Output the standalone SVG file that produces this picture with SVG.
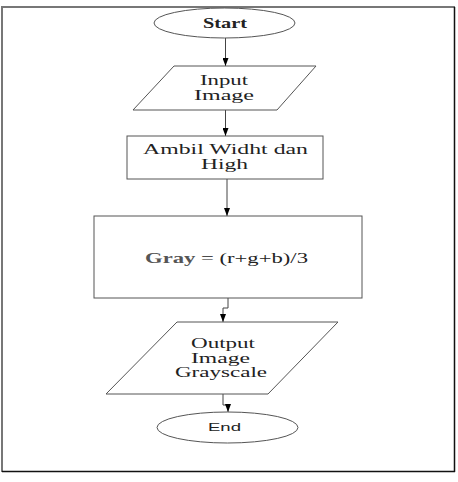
<svg xmlns="http://www.w3.org/2000/svg" width="458" height="482" viewBox="0 0 458 482">
<style>
.shape{fill:#fff;stroke:#555;stroke-width:1}
.conn{fill:none;stroke:#444;stroke-width:1}
.t{font-family:"Liberation Serif",serif;font-size:14px;fill:#222;text-anchor:middle}
</style>
<defs>
<marker id="arr" viewBox="0 0 8 6" refX="8" refY="3" markerWidth="8" markerHeight="6" orient="auto" markerUnits="userSpaceOnUse">
<path d="M0,0 L8,3 L0,6 Z" fill="#000"/>
</marker>
</defs>
<rect x="0" y="0" width="458" height="482" fill="#fff"/>
<g id="frame">
<line x1="1.5" y1="7" x2="455" y2="7" stroke="#777" stroke-width="2"/>
<line x1="2" y1="6" x2="2" y2="472" stroke="#777" stroke-width="2"/>
<line x1="454.5" y1="7" x2="454.5" y2="472" stroke="#111" stroke-width="1.5"/>
<line x1="2" y1="471.5" x2="455" y2="471.5" stroke="#111" stroke-width="1.5"/>
</g>
<g id="connectors">
<path class="conn" d="M225.5,38 V66" marker-end="url(#arr)"/>
<path class="conn" d="M225.5,110 V136" marker-end="url(#arr)"/>
<path class="conn" d="M227,179 V216" marker-end="url(#arr)"/>
<path class="conn" d="M228,298 V308 H223 V322" marker-end="url(#arr)"/>
<path class="conn" d="M223,394 V405 H228 V412" marker-end="url(#arr)"/>
</g>
<g id="start">
<ellipse class="shape" cx="224.5" cy="23" rx="70.5" ry="15"/>
<text class="t" x="225" y="28" style="font-weight:bold" textLength="44" lengthAdjust="spacingAndGlyphs">Start</text>
</g>
<g id="input">
<polygon class="shape" points="174,66 316,66 277,110 133,110"/>
<text class="t" x="224" y="85" textLength="48" lengthAdjust="spacingAndGlyphs">Input</text>
<text class="t" x="224" y="100" textLength="60" lengthAdjust="spacingAndGlyphs">Image</text>
</g>
<g id="ambil">
<rect class="shape" x="127" y="136" width="196" height="43"/>
<text class="t" x="225.5" y="154" textLength="165" lengthAdjust="spacingAndGlyphs">Ambil Widht dan</text>
<text class="t" x="224.5" y="169" textLength="47" lengthAdjust="spacingAndGlyphs">High</text>
</g>
<g id="gray">
<rect class="shape" x="94" y="216" width="268" height="82"/>
<text class="t" x="226.5" y="263" textLength="163" lengthAdjust="spacingAndGlyphs"><tspan style="font-weight:bold;fill:#555">Gray</tspan> = (r+g+b)/3</text>
</g>
<g id="output">
<polygon class="shape" points="177,322 338,322 268,394 106,394"/>
<text class="t" x="223" y="348" textLength="64" lengthAdjust="spacingAndGlyphs">Output</text>
<text class="t" x="220.5" y="363" textLength="59" lengthAdjust="spacingAndGlyphs">Image</text>
<text class="t" x="221" y="377" textLength="92" lengthAdjust="spacingAndGlyphs">Grayscale</text>
</g>
<g id="end">
<ellipse class="shape" cx="227.5" cy="427.5" rx="70.5" ry="15.5"/>
<text class="t" x="224.5" y="431" style="font-family:'Liberation Sans',sans-serif;font-size:10px" textLength="33" lengthAdjust="spacingAndGlyphs">End</text>
</g>
</svg>
